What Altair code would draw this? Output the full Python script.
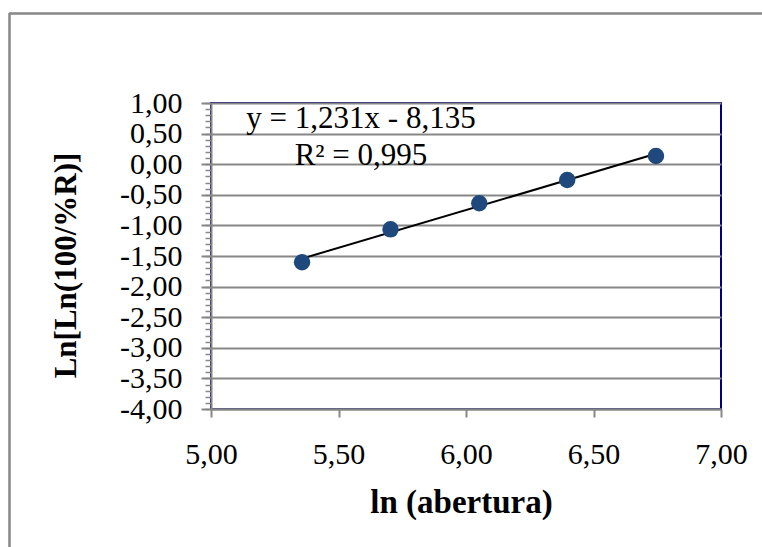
import altair as alt
import pandas as pd

# data
ln_abertura = [5.357, 5.704, 6.052, 6.397, 6.745]
ln_ln = [-1.603, -1.064, -0.639, -0.258, 0.134]
x_ticks = [5.0, 5.5, 6.0, 6.5, 7.0]
y_ticks = [1.0, 0.5, 0.0, -0.5, -1.0, -1.5, -2.0, -2.5, -3.0, -3.5, -4.0]
y_minor = [round(1.0 - 0.1 * i, 2) for i in range(51)]
eq_lines = ["y = 1,231x - 8,135", "R² = 0,995"]

df = pd.DataFrame({"x": ln_abertura, "y": ln_ln})

FONT = "Liberation Serif"
GRAY = "#878787"
NAVY = "#000080"
PT = "#1F497D"

lbl = "replace((datum.value < 0 ? '-' : '') + format(abs(datum.value), '.2f'), '.', ',')"

xscale = alt.Scale(domain=[5, 7], nice=False, zero=False)
yscale = alt.Scale(domain=[-4, 1], nice=False, zero=False)

xaxis = alt.Axis(values=x_ticks, labelExpr=lbl, grid=False, title="ln (abertura)",
                 domainColor=GRAY, domainWidth=2, tickColor=GRAY, tickWidth=2, tickSize=8,
                 labelFont=FONT, labelFontSize=30, labelColor="black", labelPadding=22,
                 labelFlush=False, labelOverlap=False,
                 titleFont=FONT, titleFontSize=33, titleFontWeight="bold", titleColor="black",
                 titleX=250, titleY=103, titleBaseline="alphabetic", titleAnchor="middle")
yaxis = alt.Axis(values=y_ticks, labelExpr=lbl, grid=True, gridColor=GRAY, gridWidth=2,
                 title="Ln[Ln(100/%R)]", orient="left",
                 domainColor=GRAY, domainWidth=2, tickColor=GRAY, tickWidth=2, tickSize=10,
                 labelFont=FONT, labelFontSize=30, labelColor="black", labelPadding=19,
                 labelBaseline="middle", labelFlush=False, labelOverlap=False,
                 titleFont=FONT, titleFontSize=31, titleFontWeight="bold", titleColor="black",
                 titleX=-136, titleY=162, titleAngle=-90, titleBaseline="alphabetic",
                 titleAlign="center")
yminor = alt.Axis(values=y_minor, labels=False, grid=False, title=None, orient="left",
                  domain=False, tickColor=GRAY, tickWidth=1.5, tickSize=6)

base = alt.Chart(df)

points = base.mark_circle(size=270, color=PT, opacity=1).encode(
    x=alt.X("x:Q", scale=xscale, axis=xaxis),
    y=alt.Y("y:Q", scale=yscale, axis=yaxis),
)

minor = base.mark_point(opacity=0).encode(
    x=alt.X("x:Q", scale=xscale, axis=xaxis),
    y=alt.Y("y:Q", scale=yscale, axis=yminor),
)

trend = base.transform_regression("x", "y").mark_line(color="black", strokeWidth=2).encode(
    x=alt.X("x:Q", scale=xscale, axis=xaxis),
    y=alt.Y("y:Q", scale=yscale, axis=None),
)

eq = alt.Chart(pd.DataFrame({"t": ["\n".join(eq_lines)]})).mark_text(
    font=FONT, fontSize=31, color="black", align="center", baseline="alphabetic",
    lineBreak="\n", lineHeight=37,
).encode(text="t:N", x=alt.value(150), y=alt.value(25))

frame_top = alt.Chart(pd.DataFrame({"a": [0]})).mark_rule(color=GRAY, strokeWidth=2.5).encode(
    x=alt.value(-202), x2=alt.value(560), y=alt.value(-89.5))
frame_left = alt.Chart(pd.DataFrame({"a": [0]})).mark_rule(color=GRAY, strokeWidth=2.5).encode(
    x=alt.value(-201.5), y=alt.value(-90), y2=alt.value(450))

chart = alt.layer(minor, trend, points, eq, frame_top, frame_left).resolve_axis(
    y="independent"
).properties(
    width=510, height=306,
    padding={"left": 211, "top": 103, "right": 41, "bottom": 138},
    autosize=alt.AutoSizeParams(type="none"),
    background="white",
).configure_view(stroke=NAVY, strokeWidth=2)

chart.save("out.html", embed_options={"renderer": "svg", "actions": False})
